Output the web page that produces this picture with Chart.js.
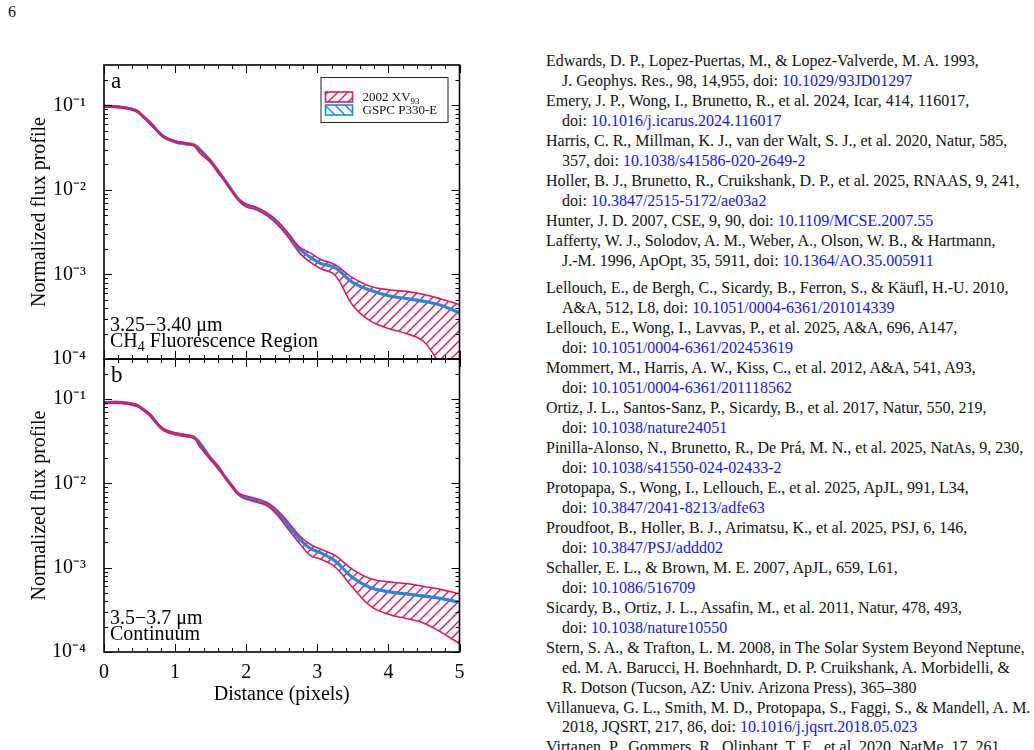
<!DOCTYPE html>
<html>
<head>
<meta charset="utf-8">
<script src="https://cdn.jsdelivr.net/npm/chart.js@4.4.1/dist/chart.umd.min.js"></script>
<style>
  html, body { margin: 0; padding: 0; background: #fff; }
  body { width: 1034px; height: 750px; overflow: hidden; position: relative; font-family: 'Liberation Serif', serif; color: #111; }
  #pageNum { position: absolute; left: 8px; top: 3px; font-size: 16px; }
  canvas { position: absolute; left: 0; }
  #panelA { top: 0; }
  #panelB { top: 340px; }
  #refs { position: absolute; left: 546px; top: 51px; font-size: 16px; line-height: 19.95px; white-space: nowrap; }
  #refs .ref { padding-left: 16px; text-indent: -16px; }
  #refs .gap { height: 8px; }
  #refs a { color: #1414f0; text-decoration: none; }
</style>
</head>
<body>
<div id="pageNum">6</div>
<canvas id="panelA" width="470" height="380"></canvas>
<canvas id="panelB" width="470" height="380"></canvas>

<div id="refs">
  <div class="ref">Edwards, D. P., Lopez-Puertas, M., &amp; Lopez-Valverde, M. A. 1993,<br>J. Geophys. Res., 98, 14,955, doi: <a>10.1029/93JD01297</a></div>
  <div class="ref">Emery, J. P., Wong, I., Brunetto, R., et al. 2024, Icar, 414, 116017,<br>doi: <a>10.1016/j.icarus.2024.116017</a></div>
  <div class="ref">Harris, C. R., Millman, K. J., van der Walt, S. J., et al. 2020, Natur, 585,<br>357, doi: <a>10.1038/s41586-020-2649-2</a></div>
  <div class="ref">Holler, B. J., Brunetto, R., Cruikshank, D. P., et al. 2025, RNAAS, 9, 241,<br>doi: <a>10.3847/2515-5172/ae03a2</a></div>
  <div class="ref">Hunter, J. D. 2007, CSE, 9, 90, doi: <a>10.1109/MCSE.2007.55</a></div>
  <div class="ref">Lafferty, W. J., Solodov, A. M., Weber, A., Olson, W. B., &amp; Hartmann,<br>J.-M. 1996, ApOpt, 35, 5911, doi: <a>10.1364/AO.35.005911</a></div>
  <div class="gap"></div>
  <div class="ref">Lellouch, E., de Bergh, C., Sicardy, B., Ferron, S., &amp; Käufl, H.-U. 2010,<br>A&amp;A, 512, L8, doi: <a>10.1051/0004-6361/201014339</a></div>
  <div class="ref">Lellouch, E., Wong, I., Lavvas, P., et al. 2025, A&amp;A, 696, A147,<br>doi: <a>10.1051/0004-6361/202453619</a></div>
  <div class="ref">Mommert, M., Harris, A. W., Kiss, C., et al. 2012, A&amp;A, 541, A93,<br>doi: <a>10.1051/0004-6361/201118562</a></div>
  <div class="ref">Ortiz, J. L., Santos-Sanz, P., Sicardy, B., et al. 2017, Natur, 550, 219,<br>doi: <a>10.1038/nature24051</a></div>
  <div class="ref">Pinilla-Alonso, N., Brunetto, R., De Prá, M. N., et al. 2025, NatAs, 9, 230,<br>doi: <a>10.1038/s41550-024-02433-2</a></div>
  <div class="ref">Protopapa, S., Wong, I., Lellouch, E., et al. 2025, ApJL, 991, L34,<br>doi: <a>10.3847/2041-8213/adfe63</a></div>
  <div class="ref">Proudfoot, B., Holler, B. J., Arimatsu, K., et al. 2025, PSJ, 6, 146,<br>doi: <a>10.3847/PSJ/addd02</a></div>
  <div class="ref">Schaller, E. L., &amp; Brown, M. E. 2007, ApJL, 659, L61,<br>doi: <a>10.1086/516709</a></div>
  <div class="ref">Sicardy, B., Ortiz, J. L., Assafin, M., et al. 2011, Natur, 478, 493,<br>doi: <a>10.1038/nature10550</a></div>
  <div class="ref">Stern, S. A., &amp; Trafton, L. M. 2008, in The Solar System Beyond Neptune,<br>ed. M. A. Barucci, H. Boehnhardt, D. P. Cruikshank, A. Morbidelli, &amp;<br>R. Dotson (Tucson, AZ: Univ. Arizona Press), 365–380</div>
  <div class="ref">Villanueva, G. L., Smith, M. D., Protopapa, S., Faggi, S., &amp; Mandell, A. M.<br>2018, JQSRT, 217, 86, doi: <a>10.1016/j.jqsrt.2018.05.023</a></div>
  <div class="ref">Virtanen, P., Gommers, R., Oliphant, T. E., et al. 2020, NatMe, 17, 261,</div>
</div>

<script>
// distance from the centre, in pixels
const distance = [0, 0.25, 0.45, 0.55, 0.65, 0.75, 0.85, 1.0, 1.15, 1.27, 1.35, 1.5, 1.6, 1.7, 1.8, 1.9,
                  2.0, 2.15, 2.3, 2.45, 2.6, 2.75, 2.9, 3.05, 3.25, 3.5, 3.75, 4.0, 4.25, 4.5, 4.75, 5.0];

// panel a: 3.25-3.40 um, CH4 fluorescence region
const xv93UpperA = [0.099, 0.096, 0.088, 0.075, 0.063, 0.051, 0.043, 0.038, 0.036, 0.034, 0.029, 0.022, 0.017, 0.013, 0.0099, 0.0077,
                    0.0068, 0.0062, 0.0053, 0.0042, 0.0030, 0.0021, 0.0018, 0.0015, 0.0013, 0.00091, 0.00072, 0.00066, 0.00063, 0.00058, 0.00051, 0.00044];
const xv93LowerA = [0.096, 0.093, 0.085, 0.072, 0.060, 0.049, 0.041, 0.037, 0.035, 0.033, 0.027, 0.021, 0.016, 0.0125, 0.0095, 0.0074,
                    0.0063, 0.0058, 0.0049, 0.0038, 0.0027, 0.0018, 0.0014, 0.00117, 0.00098, 0.00043, 0.00028, 0.00023, 0.00020, 0.00016, 0.00008, 0.000045];
const gspcA = [0.098, 0.095, 0.087, 0.074, 0.062, 0.050, 0.042, 0.037, 0.035, 0.034, 0.030, 0.022, 0.017, 0.013, 0.0098, 0.0076,
               0.0066, 0.0060, 0.0051, 0.0040, 0.0029, 0.0020, 0.0016, 0.00135, 0.0012, 0.00080, 0.00065, 0.00056, 0.00052, 0.00048, 0.00043, 0.00035];

// panel b: 3.5-3.7 um, continuum
const xv93UpperB = [0.093, 0.093, 0.087, 0.077, 0.066, 0.052, 0.044, 0.040, 0.038, 0.036, 0.029, 0.020, 0.016, 0.0122, 0.0095, 0.0076,
                    0.0071, 0.0066, 0.0059, 0.0047, 0.0034, 0.0024, 0.0019, 0.00166, 0.0014, 0.00095, 0.00074, 0.00068, 0.00065, 0.00060, 0.00055, 0.00049];
const xv93LowerB = [0.089, 0.089, 0.083, 0.074, 0.063, 0.050, 0.042, 0.038, 0.036, 0.034, 0.027, 0.019, 0.015, 0.0117, 0.0091, 0.0072,
                    0.0065, 0.0060, 0.0054, 0.0041, 0.0028, 0.00195, 0.0014, 0.00126, 0.00102, 0.00058, 0.00035, 0.00028, 0.00025, 0.00022, 0.00017, 0.000126];
const gspcB = [0.091, 0.091, 0.085, 0.076, 0.065, 0.051, 0.043, 0.039, 0.037, 0.035, 0.030, 0.020, 0.016, 0.012, 0.0093, 0.0074,
               0.0068, 0.0063, 0.0056, 0.0044, 0.0031, 0.0022, 0.0017, 0.0015, 0.0012, 0.00076, 0.00058, 0.00052, 0.00049, 0.00046, 0.00043, 0.00039];

const yTicks = [1e-4, 1e-3, 1e-2, 1e-1];
const yTickLabels = ['10⁻⁴', '10⁻³', '10⁻²', '10⁻¹'];
const xTicks = [0, 1, 2, 3, 4, 5];

const RED = '#d81b60';
const BLUE = '#1e88e5';
const FONT = "'Liberation Serif', serif";

Chart.defaults.font.family = FONT;
Chart.defaults.color = '#000';

// diagonal hatch pattern, like matplotlib '/' and '\'
function hatch(color, dir) {
    const c = document.createElement('canvas');
    c.width = 10; c.height = 10;
    const g = c.getContext('2d');
    g.strokeStyle = color;
    g.lineWidth = 1.4;
    g.beginPath();
    if (dir === '/') {
        g.moveTo(-2, 12); g.lineTo(12, -2);
        g.moveTo(-2, 2); g.lineTo(2, -2);
        g.moveTo(8, 12); g.lineTo(12, 8);
    } else {
        g.moveTo(-2, -2); g.lineTo(12, 12);
        g.moveTo(8, -2); g.lineTo(12, 2);
        g.moveTo(-2, 8); g.lineTo(2, 12);
    }
    g.stroke();
    return g.createPattern(c, 'repeat');
}

function points(arr) {
    return distance.map((d, i) => ({ x: d, y: arr[i] }));
}

// frame, inward ticks, panel text and legend
const framePlugin = {
    id: 'frame',
    afterDraw(chart, args, opts) {
        const { ctx, chartArea: a, scales: { x, y } } = chart;
        ctx.save();
        ctx.strokeStyle = '#000';
        ctx.lineWidth = 1;
        ctx.beginPath();
        // y ticks (major at decades, minor 2..9)
        for (let e = -4; e <= -1; e++) {
            for (let k = 1; k <= 9; k++) {
                const v = k * Math.pow(10, e);
                if (v > y.max) break;
                const py = Math.round(y.getPixelForValue(v)) + 0.5;
                const len = k === 1 ? 8 : 4;
                ctx.moveTo(a.left, py); ctx.lineTo(a.left + len, py);
                ctx.moveTo(a.right, py); ctx.lineTo(a.right - len, py);
            }
        }
        // x ticks (major at integers, minor every 0.2)
        for (let i = 0; i <= 25; i++) {
            const px = Math.round(x.getPixelForValue(i * 0.2)) + 0.5;
            const len = i % 5 === 0 ? 8 : 4;
            ctx.moveTo(px, a.bottom); ctx.lineTo(px, a.bottom - len);
            ctx.moveTo(px, a.top); ctx.lineTo(px, a.top + len);
        }
        ctx.stroke();
        ctx.lineWidth = 1.6;
        ctx.strokeRect(a.left, a.top, a.right - a.left, a.bottom - a.top);

        // panel letter
        ctx.fillStyle = '#000';
        ctx.textBaseline = 'alphabetic';
        ctx.font = '23px ' + FONT;
        ctx.fillText(opts.letter, a.left + 7, a.top + 23);

        // band label, two lines, optional subscript
        ctx.font = '20px ' + FONT;
        ctx.fillText(opts.band, a.left + 6, a.bottom - 28);
        let tx = a.left + 6;
        opts.region.forEach(part => {
            if (part.sub) {
                ctx.font = '14px ' + FONT;
                ctx.fillText(part.text, tx, a.bottom - 8);
            } else {
                ctx.font = '20px ' + FONT;
                ctx.fillText(part.text, tx, a.bottom - 12);
            }
            tx += ctx.measureText(part.text).width;
        });

        if (opts.legend) {
            const bx = a.right - 139, by = a.top + 12, bw = 127, bh = 45;
            ctx.fillStyle = '#fff';
            ctx.fillRect(bx, by, bw, bh);
            ctx.lineWidth = 1;
            ctx.strokeStyle = '#222';
            ctx.strokeRect(bx + 0.5, by + 0.5, bw, bh);
            const entries = [
                { color: RED, dir: '/', text: '2002 XV', sub: '93', py: by + 15 },
                { color: BLUE, dir: '\\', text: 'GSPC P330-E', sub: '', py: by + 28 }
            ];
            entries.forEach(en => {
                ctx.fillStyle = hatch(en.color, en.dir);
                ctx.fillRect(bx + 5, en.py, 27, 10);
                ctx.strokeStyle = en.color;
                ctx.lineWidth = 1.6;
                ctx.strokeRect(bx + 5, en.py, 27, 10);
                ctx.fillStyle = '#111';
                ctx.font = '13px ' + FONT;
                ctx.fillText(en.text, bx + 42, en.py + 9);
                if (en.sub) {
                    const w = ctx.measureText(en.text).width;
                    ctx.font = '9px ' + FONT;
                    ctx.fillText(en.sub, bx + 42 + w, en.py + 12);
                }
            });
        }
        ctx.restore();
    }
};

function makePanel(id, upper, lower, gspc, panelOpts, showX) {
    const ctx = document.getElementById(id).getContext('2d');
    return new Chart(ctx, {
        type: 'line',
        data: {
            datasets: [
                { label: 'GSPC P330-E', data: points(gspc), borderColor: BLUE, borderWidth: 3.2, fill: false, order: 2 },
                { label: '2002 XV93 upper', data: points(upper), borderColor: RED, borderWidth: 1.6,
                  fill: '+1', backgroundColor: hatch(RED, '/'), order: 1 },
                { label: '2002 XV93 lower', data: points(lower), borderColor: RED, borderWidth: 1.6, fill: false, order: 1 }
            ]
        },
        options: {
            responsive: false,
            animation: false,
            devicePixelRatio: 1,
            layout: { padding: panelOpts.padding },
            elements: { point: { radius: 0 }, line: { tension: 0.4 } },
            plugins: {
                legend: { display: false },
                tooltip: { enabled: false },
                filler: { drawTime: 'beforeDatasetsDraw' },
                frame: panelOpts
            },
            scales: {
                x: {
                    type: 'linear', min: 0, max: 5,
                    grid: { display: false }, border: { display: false },
                    ticks: { display: showX, font: { size: 20 }, padding: 1, maxRotation: 0 },
                    title: { display: showX, text: 'Distance (pixels)', font: { size: 20 }, padding: { top: 0, bottom: 13 } },
                    afterBuildTicks: s => { s.ticks = xTicks.map(v => ({ value: v })); },
                    afterFit: s => { s.height = showX ? 68 : 0; s.paddingLeft = 0; s.paddingRight = 0; }
                },
                y: {
                    type: 'logarithmic', min: 1e-4, max: 0.3,
                    grid: { display: false }, border: { display: false },
                    ticks: { font: { size: 20 }, padding: 10, callback: (v, i) => yTickLabels[i] },
                    title: { display: true, text: 'Normalized flux profile', font: { size: 20 }, padding: { top: 28, bottom: 0 } },
                    afterBuildTicks: s => { s.ticks = yTicks.map(v => ({ value: v })); },
                    afterFit: s => { s.width = 104; s.paddingTop = 0; s.paddingBottom = 0; }
                }
            }
        },
        plugins: [framePlugin]
    });
}

makePanel('panelA', xv93UpperA, xv93LowerA, gspcA, {
    padding: { left: 0, top: 65, right: 10.5, bottom: 21 },
    letter: 'a', band: '3.25−3.40 μm',
    region: [{ text: 'CH' }, { text: '4', sub: true }, { text: ' Fluorescence Region' }],
    legend: true
}, false);

makePanel('panelB', xv93UpperB, xv93LowerB, gspcB, {
    padding: { left: 0, top: 19, right: 10.5, bottom: 0 },
    letter: 'b', band: '3.5−3.7 μm',
    region: [{ text: 'Continuum' }],
    legend: false
}, true);
</script>
</body>
</html>
